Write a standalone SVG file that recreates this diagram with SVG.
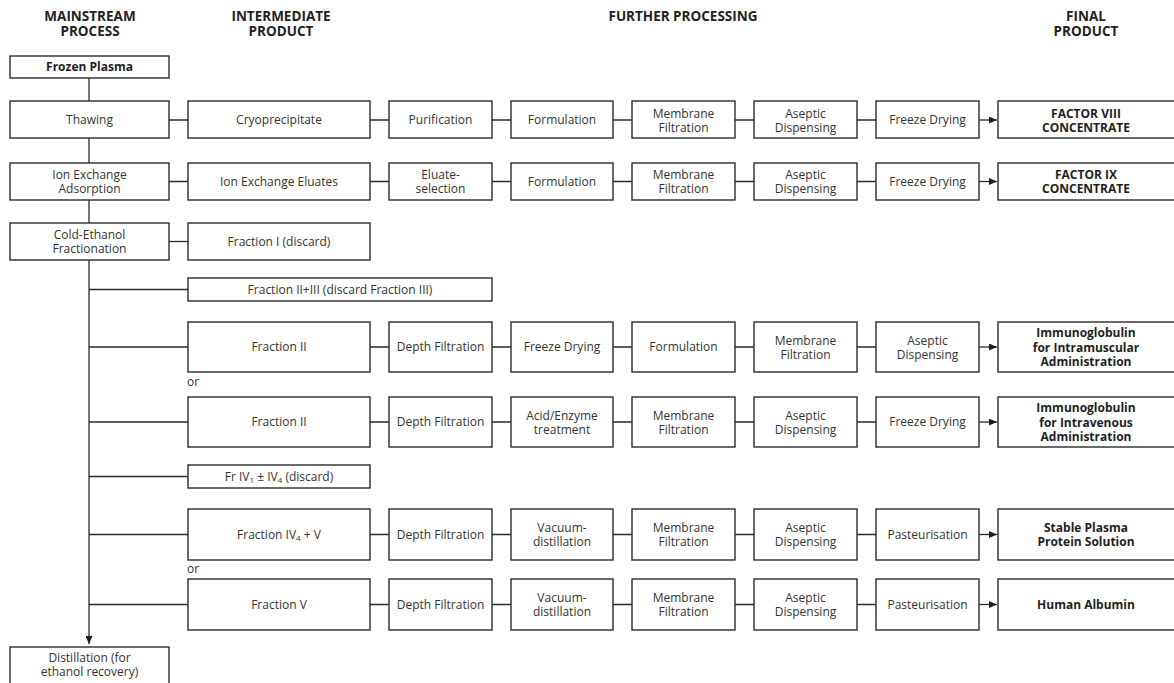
<svg xmlns="http://www.w3.org/2000/svg" width="1174" height="683" viewBox="0 0 1174 683">
<style>
.bx{fill:#fff;stroke:#2b2b2b;stroke-width:1.4}
.ln{stroke:#2b2b2b;stroke-width:1.3;fill:none}
.t{font-family:"Open Sans","Noto Sans",sans-serif;font-size:12px;fill:#333;text-anchor:middle}
.b{font-family:"Open Sans","Noto Sans",sans-serif;font-size:12px;font-weight:bold;fill:#1e1e1e;text-anchor:middle}
.h{font-family:"Open Sans","Noto Sans",sans-serif;font-size:13.5px;font-weight:bold;fill:#222;text-anchor:middle}
.sub{font-size:8px}
</style>
<defs>
<marker id="ar" markerWidth="8" markerHeight="7" refX="8" refY="3.5" orient="auto" markerUnits="userSpaceOnUse">
<path d="M0,0 L8,3.5 L0,7 z" fill="#1e1e1e"/>
</marker>
</defs>

<g id="headers">
<text class="h" x="90" y="21">MAINSTREAM<tspan x="90" dy="14.5">PROCESS</tspan></text>
<text class="h" x="281" y="21">INTERMEDIATE<tspan x="281" dy="14.5">PRODUCT</tspan></text>
<text class="h" x="683" y="21">FURTHER PROCESSING</text>
<text class="h" x="1086" y="21">FINAL<tspan x="1086" dy="14.5">PRODUCT</tspan></text>
</g>

<g id="connectors">
<path class="ln" d="M89,78 V101 M89,138 V163 M89,200 V223"/>
<path class="ln" d="M89,260 V644" marker-end="url(#ar)"/>
<path class="ln" d="M89,289.5 H188 M89,347 H188 M89,422 H188 M89,476.5 H188 M89,534.5 H188 M89,604.5 H188"/>
<path class="ln" d="M169,120 H188 M370,120 H389 M492,120 H511 M613,120 H632 M735,120 H754 M857,120 H876"/>
<path class="ln" d="M979,120 H997" marker-end="url(#ar)"/>
<path class="ln" d="M169,181.5 H188 M370,181.5 H389 M492,181.5 H511 M613,181.5 H632 M735,181.5 H754 M857,181.5 H876"/>
<path class="ln" d="M979,181.5 H997" marker-end="url(#ar)"/>
<path class="ln" d="M169,241.5 H188"/>
<path class="ln" d="M370,347 H389 M492,347 H511 M613,347 H632 M735,347 H754 M857,347 H876"/>
<path class="ln" d="M979,347 H997" marker-end="url(#ar)"/>
<path class="ln" d="M370,422 H389 M492,422 H511 M613,422 H632 M735,422 H754 M857,422 H876"/>
<path class="ln" d="M979,422 H997" marker-end="url(#ar)"/>
<path class="ln" d="M370,534.5 H389 M492,534.5 H511 M613,534.5 H632 M735,534.5 H754 M857,534.5 H876"/>
<path class="ln" d="M979,534.5 H997" marker-end="url(#ar)"/>
<path class="ln" d="M370,604.5 H389 M492,604.5 H511 M613,604.5 H632 M735,604.5 H754 M857,604.5 H876"/>
<path class="ln" d="M979,604.5 H997" marker-end="url(#ar)"/>
</g>

<g id="frozen-plasma"><rect class="bx" x="10" y="56" width="159" height="22"/><text class="b" x="89.5" y="71.3">Frozen Plasma</text></g>
<g id="thawing"><rect class="bx" x="10" y="101" width="159" height="37"/><text class="t" x="89.5" y="124.3">Thawing</text></g>
<g id="ion-exchange"><rect class="bx" x="10" y="163" width="159" height="37"/><text class="t" x="89.5" y="179">Ion Exchange<tspan x="89.5" dy="14">Adsorption</tspan></text></g>
<g id="cold-ethanol"><rect class="bx" x="10" y="223" width="159" height="37"/><text class="t" x="89.5" y="239">Cold-Ethanol<tspan x="89.5" dy="14">Fractionation</tspan></text></g>
<g id="distillation"><rect class="bx" x="10" y="647" width="159" height="45"/><text class="t" x="89.5" y="662">Distillation (for<tspan x="89.5" dy="14">ethanol recovery)</tspan></text></g>

<g id="cryoprecipitate"><rect class="bx" x="188" y="101" width="182" height="37"/><text class="t" x="279" y="124.3">Cryoprecipitate</text></g>
<g id="purification"><rect class="bx" x="389" y="101" width="103" height="37"/><text class="t" x="440.5" y="124.3">Purification</text></g>
<g id="formulation-1"><rect class="bx" x="511" y="101" width="102" height="37"/><text class="t" x="562" y="124.3">Formulation</text></g>
<g id="membrane-1"><rect class="bx" x="632" y="101" width="103" height="37"/><text class="t" x="683.5" y="117.5">Membrane<tspan x="683.5" dy="14">Filtration</tspan></text></g>
<g id="aseptic-1"><rect class="bx" x="754" y="101" width="103" height="37"/><text class="t" x="805.5" y="117.5">Aseptic<tspan x="805.5" dy="14">Dispensing</tspan></text></g>
<g id="freeze-1"><rect class="bx" x="876" y="101" width="103" height="37"/><text class="t" x="927.5" y="124.3">Freeze Drying</text></g>
<g id="factor-viii"><rect class="bx" x="998" y="101" width="180" height="37"/><text class="b" x="1086" y="117.5">FACTOR VIII<tspan x="1086" dy="14">CONCENTRATE</tspan></text></g>

<g id="ion-eluates"><rect class="bx" x="188" y="163" width="182" height="37"/><text class="t" x="279" y="185.8">Ion Exchange Eluates</text></g>
<g id="eluate-selection"><rect class="bx" x="389" y="163" width="103" height="37"/><text class="t" x="440.5" y="179">Eluate-<tspan x="440.5" dy="14">selection</tspan></text></g>
<g id="formulation-2"><rect class="bx" x="511" y="163" width="102" height="37"/><text class="t" x="562" y="185.8">Formulation</text></g>
<g id="membrane-2"><rect class="bx" x="632" y="163" width="103" height="37"/><text class="t" x="683.5" y="179">Membrane<tspan x="683.5" dy="14">Filtration</tspan></text></g>
<g id="aseptic-2"><rect class="bx" x="754" y="163" width="103" height="37"/><text class="t" x="805.5" y="179">Aseptic<tspan x="805.5" dy="14">Dispensing</tspan></text></g>
<g id="freeze-2"><rect class="bx" x="876" y="163" width="103" height="37"/><text class="t" x="927.5" y="185.8">Freeze Drying</text></g>
<g id="factor-ix"><rect class="bx" x="998" y="163" width="180" height="37"/><text class="b" x="1086" y="179">FACTOR IX<tspan x="1086" dy="14">CONCENTRATE</tspan></text></g>

<g id="fraction-i"><rect class="bx" x="188" y="223" width="182" height="37"/><text class="t" x="279" y="245.8">Fraction I (discard)</text></g>
<g id="fraction-ii-iii"><rect class="bx" x="188" y="278" width="304" height="23"/><text class="t" x="340" y="293.8">Fraction II+III (discard Fraction III)</text></g>

<g id="fraction-ii-a"><rect class="bx" x="188" y="322" width="182" height="50"/><text class="t" x="279" y="351.3">Fraction II</text></g>
<g id="depth-1"><rect class="bx" x="389" y="322" width="103" height="50"/><text class="t" x="440.5" y="351.3">Depth Filtration</text></g>
<g id="freeze-3"><rect class="bx" x="511" y="322" width="102" height="50"/><text class="t" x="562" y="351.3">Freeze Drying</text></g>
<g id="formulation-3"><rect class="bx" x="632" y="322" width="103" height="50"/><text class="t" x="683.5" y="351.3">Formulation</text></g>
<g id="membrane-3"><rect class="bx" x="754" y="322" width="103" height="50"/><text class="t" x="805.5" y="344.5">Membrane<tspan x="805.5" dy="14">Filtration</tspan></text></g>
<g id="aseptic-3"><rect class="bx" x="876" y="322" width="103" height="50"/><text class="t" x="927.5" y="344.5">Aseptic<tspan x="927.5" dy="14">Dispensing</tspan></text></g>
<g id="ig-im"><rect class="bx" x="998" y="322" width="180" height="50"/><text class="b" x="1086" y="337">Immunoglobulin<tspan x="1086" dy="14.5">for Intramuscular</tspan><tspan x="1086" dy="14.5">Administration</tspan></text></g>

<text class="t" x="187" y="386" style="text-anchor:start">or</text>

<g id="fraction-ii-b"><rect class="bx" x="188" y="397" width="182" height="50"/><text class="t" x="279" y="426.3">Fraction II</text></g>
<g id="depth-2"><rect class="bx" x="389" y="397" width="103" height="50"/><text class="t" x="440.5" y="426.3">Depth Filtration</text></g>
<g id="acid-enzyme"><rect class="bx" x="511" y="397" width="102" height="50"/><text class="t" x="562" y="419.5">Acid/Enzyme<tspan x="562" dy="14">treatment</tspan></text></g>
<g id="membrane-4"><rect class="bx" x="632" y="397" width="103" height="50"/><text class="t" x="683.5" y="419.5">Membrane<tspan x="683.5" dy="14">Filtration</tspan></text></g>
<g id="aseptic-4"><rect class="bx" x="754" y="397" width="103" height="50"/><text class="t" x="805.5" y="419.5">Aseptic<tspan x="805.5" dy="14">Dispensing</tspan></text></g>
<g id="freeze-4"><rect class="bx" x="876" y="397" width="103" height="50"/><text class="t" x="927.5" y="426.3">Freeze Drying</text></g>
<g id="ig-iv"><rect class="bx" x="998" y="397" width="180" height="50"/><text class="b" x="1086" y="412">Immunoglobulin<tspan x="1086" dy="14.5">for Intravenous</tspan><tspan x="1086" dy="14.5">Administration</tspan></text></g>

<g id="fr-iv"><rect class="bx" x="188" y="465" width="182" height="23"/><text class="t" x="279" y="480.8">Fr IV<tspan class="sub" dy="2.5">1</tspan><tspan dy="-2.5"> ± IV</tspan><tspan class="sub" dy="2.5">4</tspan><tspan dy="-2.5"> (discard)</tspan></text></g>

<g id="fraction-iv4-v"><rect class="bx" x="188" y="509" width="182" height="51"/><text class="t" x="279" y="538.8">Fraction IV<tspan class="sub" dy="2.5">4</tspan><tspan dy="-2.5"> + V</tspan></text></g>
<g id="depth-3"><rect class="bx" x="389" y="509" width="103" height="51"/><text class="t" x="440.5" y="538.8">Depth Filtration</text></g>
<g id="vacuum-1"><rect class="bx" x="511" y="509" width="102" height="51"/><text class="t" x="562" y="532">Vacuum-<tspan x="562" dy="14">distillation</tspan></text></g>
<g id="membrane-5"><rect class="bx" x="632" y="509" width="103" height="51"/><text class="t" x="683.5" y="532">Membrane<tspan x="683.5" dy="14">Filtration</tspan></text></g>
<g id="aseptic-5"><rect class="bx" x="754" y="509" width="103" height="51"/><text class="t" x="805.5" y="532">Aseptic<tspan x="805.5" dy="14">Dispensing</tspan></text></g>
<g id="pasteurisation-1"><rect class="bx" x="876" y="509" width="103" height="51"/><text class="t" x="927.5" y="538.8">Pasteurisation</text></g>
<g id="spps"><rect class="bx" x="998" y="509" width="180" height="51"/><text class="b" x="1086" y="532">Stable Plasma<tspan x="1086" dy="14">Protein Solution</tspan></text></g>

<text class="t" x="187" y="573" style="text-anchor:start">or</text>

<g id="fraction-v"><rect class="bx" x="188" y="579" width="182" height="51"/><text class="t" x="279" y="608.8">Fraction V</text></g>
<g id="depth-4"><rect class="bx" x="389" y="579" width="103" height="51"/><text class="t" x="440.5" y="608.8">Depth Filtration</text></g>
<g id="vacuum-2"><rect class="bx" x="511" y="579" width="102" height="51"/><text class="t" x="562" y="602">Vacuum-<tspan x="562" dy="14">distillation</tspan></text></g>
<g id="membrane-6"><rect class="bx" x="632" y="579" width="103" height="51"/><text class="t" x="683.5" y="602">Membrane<tspan x="683.5" dy="14">Filtration</tspan></text></g>
<g id="aseptic-6"><rect class="bx" x="754" y="579" width="103" height="51"/><text class="t" x="805.5" y="602">Aseptic<tspan x="805.5" dy="14">Dispensing</tspan></text></g>
<g id="pasteurisation-2"><rect class="bx" x="876" y="579" width="103" height="51"/><text class="t" x="927.5" y="608.8">Pasteurisation</text></g>
<g id="albumin"><rect class="bx" x="998" y="579" width="180" height="51"/><text class="b" x="1086" y="608.8">Human Albumin</text></g>
</svg>
